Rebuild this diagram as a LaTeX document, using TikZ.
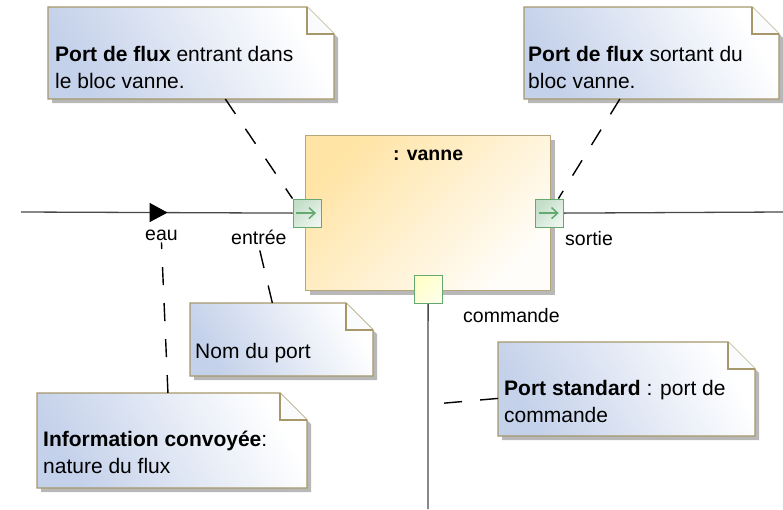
\documentclass[tikz,border=0pt]{standalone}
\usepackage{fontspec}
\setmainfont{Liberation Sans}
\usetikzlibrary{arrows.meta,positioning,fit,calc,shadows,decorations.markings}

\definecolor{noteblue}{RGB}{196,209,234}
\definecolor{noteline}{RGB}{166,152,106}
\definecolor{blockor}{RGB}{255,228,166}
\definecolor{blockline}{RGB}{180,166,122}
\definecolor{portgreen}{RGB}{100,170,112}
\definecolor{portfill}{RGB}{194,222,199}
\definecolor{cmdfill}{RGB}{255,255,200}
\definecolor{flowgray}{RGB}{72,72,72}

% folded-corner frame drawn round a fitted note node
\newcommand{\notepaint}[1]{%
  \shadedraw[notebody] (#1.north west) -- ([shift={(-27,0)}]#1.north east)
    -- ([shift={(0,27)}]#1.north east) -- (#1.south east) -- (#1.south west) -- cycle;
  \filldraw[notefold] ([shift={(-27,0)}]#1.north east) -- ([shift={(-27,27)}]#1.north east)
    -- ([shift={(0,27)}]#1.north east);
}

\begin{document}
\begin{tikzpicture}[
  x=1pt, y=-1pt,
  notebox/.style={inner sep=0pt, outer sep=0pt},
  notebody/.style={draw=noteline, line width=1.2pt, top color=noteblue, bottom color=white,
    shading angle=120, drop shadow={shadow xshift=4pt, shadow yshift=-4pt, opacity=1, fill=black!28}},
  notefold/.style={draw=noteline, line width=1.2pt, fill=white!92!noteblue},
  notetxt/.style={font=\fontsize{21}{27}\selectfont, align=left, inner sep=0pt, anchor=base west},
  lbl/.style={font=\fontsize{19.5}{24}\selectfont, inner sep=2pt, anchor=base west},
  block/.style={draw=blockline, line width=1.2pt, top color=blockor, bottom color=white!75!blockor!25,
    shading angle=45, inner sep=0pt, minimum width=245, minimum height=155,
    drop shadow={shadow xshift=4pt, shadow yshift=-4pt, opacity=1, fill=black!28}},
  flowport/.style={draw=portgreen, line width=1pt, minimum size=28, inner sep=0pt,
    top color=portfill, bottom color=portfill!30, shading angle=45,
    path picture={\draw[portgreen, line width=1.5pt, -{Straight Barb[length=6pt,width=11pt]}]
      ([xshift=-11pt]path picture bounding box.center) -- ([xshift=9pt]path picture bounding box.center);}},
  stdport/.style={draw=portgreen, line width=1pt, minimum size=28, inner sep=0pt,
    top color=cmdfill, bottom color=cmdfill!40, shading angle=45},
  flow/.style={draw=flowgray, line width=1.3pt},
  anchorline/.style={draw=black, line width=1.4pt, dash pattern=on 18pt off 18pt}
]
  \fill[white] (0,0) rectangle (783,509);
  \useasboundingbox (0,0) rectangle (783,509);

  % notes
  \node[notebox, fit={(48,7) (334,99)}] (nEnt) {};
  \node[notebox, fit={(524,7) (779,99)}] (nSort) {};
  \node[notebox, fit={(190,303) (373,376)}] (nNom) {};
  \node[notebox, fit={(37,393) (307,488)}] (nInfo) {};
  \node[notebox, fit={(498,342) (755,436)}] (nStd) {};
  \notepaint{nEnt}
  \notepaint{nSort}
  \notepaint{nNom}
  \notepaint{nInfo}
  \notepaint{nStd}

  \node[notetxt] (nEntT) at (55,88.5) {\textbf{Port de flux} entrant dans\\le bloc vanne.};
  \node[notetxt] (nSortT) at (528,88.5) {\textbf{Port de flux} sortant du\\bloc vanne.};
  \node[notetxt] (nNomT) at (195,358) {Nom du port};
  \node[notetxt] (nInfoT) at (43,473) {\textbf{Information convoyée}:\\nature du flux};
  \node[notetxt] (nStdT) at (504,422.7) {\textbf{Port standard} : port de\\commande};

  % block and its ports
  \node[block, anchor=north west] (blk) at (305,135) {};
  \node[font=\fontsize{19.5}{24}\selectfont\bfseries, anchor=base, inner sep=0pt] (blkT)
    at ([yshift=-25.7pt]blk.north) {: vanne};
  \node[flowport] (pIn) at ([xshift=2pt]blk.west) {};
  \node[flowport] (pOut) at ([xshift=-1.5pt]blk.east) {};
  \node[stdport] (pCmd) at ([yshift=1.5pt]blk.south) {};

  \coordinate (inStart) at (21,212);
  \coordinate (outEnd) at (783,212);
  \coordinate (cmdEnd) at (428,509);

  \draw[flow, postaction={decorate}, decoration={markings,
    mark=at position 0.54 with {\arrow{Triangle[length=18pt,width=19pt,color=black]}}}] (inStart) -- (pIn.west);
  \draw[flow] (pOut.east) -- (outEnd);
  \draw[flow] (pCmd.south) -- (cmdEnd);

  % labels
  \node[lbl] (eau) at (143,240) {eau};
  \node[lbl] (ent) at (229,244) {entrée};
  \node[lbl] (sort) at (563,245) {sortie};
  \node[lbl] (cmd) at (461,322.7) {commande};

  % anchors of the notes
  \draw[anchorline] ($(nEnt.south west)!0.62!(nEnt.south east)$) -- (pIn.north west);
  \draw[anchorline] ($(nSort.south west)!0.376!(nSort.south east)$) -- ($(pOut.north west)!0.8!(pOut.north east)$);
  \draw[anchorline] ($(nNom.north west)!0.45!(nNom.north east)$) -- (ent.south);
  \draw[anchorline] ($(nInfo.north west)!0.485!(nInfo.north east)$) -- (eau.south);
  \draw[anchorline] ($(nStd.north west)!0.6!(nStd.south west)$) -- ($(pCmd.south)!0.49!(cmdEnd)$);
\end{tikzpicture}
\end{document}
